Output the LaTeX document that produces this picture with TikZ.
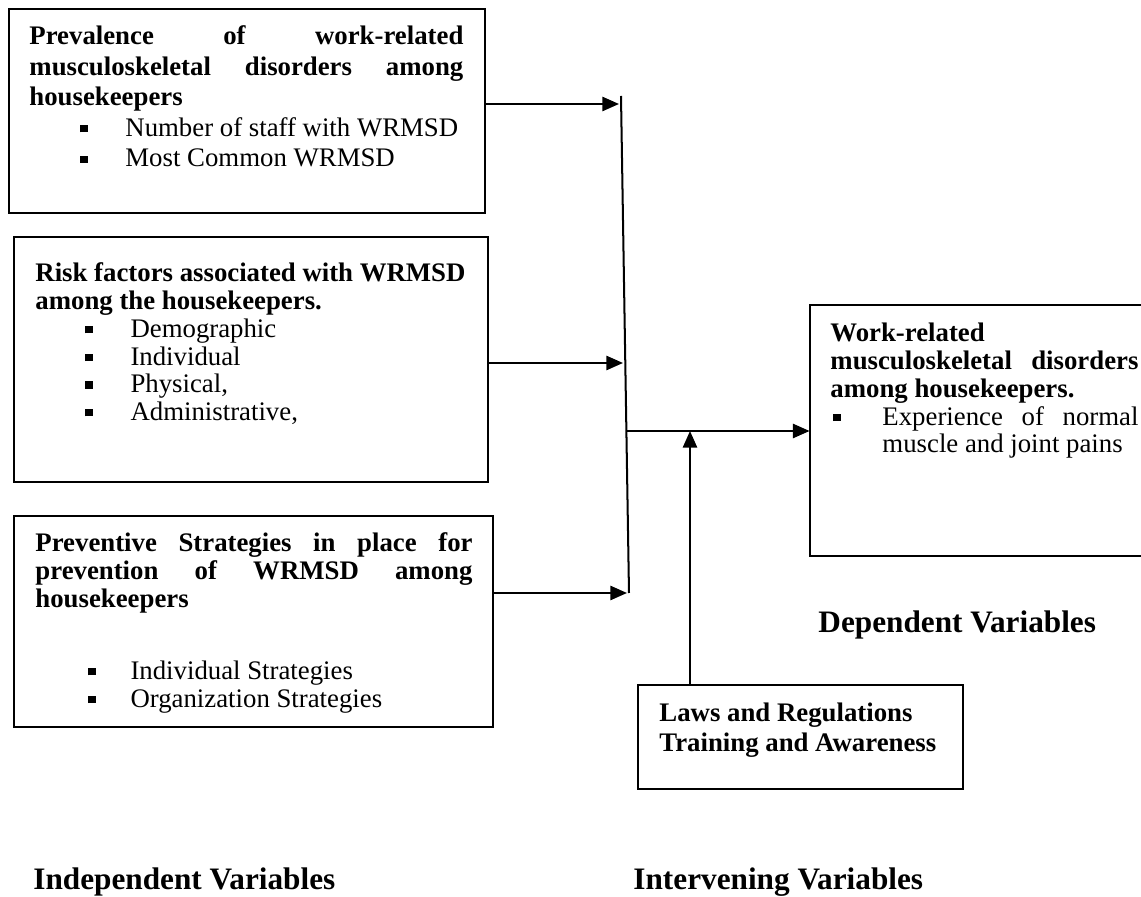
\documentclass[tikz,border=0pt]{standalone}
\usepackage{fontspec}
\setmainfont{Liberation Serif}
\usetikzlibrary{arrows.meta,fit}
\newcommand\bul[2]{\hbox to #2{\hskip #1\rule[1.8pt]{3.3pt}{3.3pt}\hss}}
\begin{document}
\begin{tikzpicture}[x=0.448pt,y=-0.448pt,
  box/.style={draw,line width=0.9pt,inner sep=0pt},
  txt/.style={inner sep=0pt,anchor=base west},
  arr/.style={line width=0.9pt,-{Triangle[length=7.5pt,width=6.4pt]}},
  bus/.style={line width=0.9pt},
  lab/.style={inner sep=0pt,anchor=base west,font=\bfseries\fontsize{14}{16}\selectfont}]
\useasboundingbox (0,0) rectangle (1141,897);

% boxes
\node[box,fit={(9,9) (485,213)}] (prev) {};
\node[box,fit={(14,237) (488,482)}] (risk) {};
\node[box,fit={(14,516) (493,727)}] (prevs) {};
\node[inner sep=0pt,fit={(810,305) (1141,556)}] (dep) {};
\draw[line width=0.9pt] (dep.north east) -- (dep.north west) -- (dep.south west) -- (dep.south east);
\node[box,fit={(638,685) (963,789)}] (law) {};

% texts
\node[txt] (prevT) at (29,45) {\parbox[t]{194.4pt}{\fontsize{12}{13.66}\selectfont\bfseries
\hbox to\linewidth{Prevalence\hfill of\hfill work-related}
\hbox to\linewidth{musculoskeletal\hfill disorders\hfill among}
\hbox{housekeepers}
\mdseries
\hbox{\bul{22.8pt}{43pt}Number of staff with WRMSD}
\hbox{\bul{22.8pt}{43pt}Most Common WRMSD}}};

\node[txt] (riskT) at (35,282) {\parbox[t]{200pt}{\fontsize{12}{12.4}\selectfont\bfseries
\hbox{Risk factors associated with WRMSD}
\hbox{among the housekeepers.}
\mdseries
\hbox{\bul{22.4pt}{42.6pt}Demographic}
\hbox{\bul{22.4pt}{42.6pt}Individual}
\hbox{\bul{22.4pt}{42.6pt}Physical,}
\hbox{\bul{22.4pt}{42.6pt}Administrative,}}};

\node[txt] (prevsT) at (35,552) {\parbox[t]{195.8pt}{\fontsize{12}{12.4}\selectfont\bfseries
\hbox to\linewidth{Preventive\hfill Strategies\hfill in\hfill place\hfill for}
\hbox to\linewidth{prevention\hfill of\hfill WRMSD\hfill among}
\hbox{housekeepers}
\vskip 19.9pt
\mdseries
\hbox{\bul{23.7pt}{42.6pt}Individual Strategies}
\hbox{\bul{23.7pt}{42.6pt}Organization Strategies}}};

\node[txt] (depT) at (830,342) {\parbox[t]{138pt}{\fontsize{12}{12.4}\selectfont\bfseries
\hbox{Work-related}
\hbox to\linewidth{musculoskeletal\hfill disorders}
\hbox{among housekeepers.}
\mdseries
\hbox to\linewidth{\bul{1.3pt}{23.3pt}Experience\hfill of\hfill normal}
\hbox{\hskip23.3pt muscle and joint pains}}};

\node[txt] (lawT) at (659,722) {\parbox[t]{140pt}{\fontsize{12}{13.4}\selectfont\bfseries
\hbox{Laws and Regulations}
\hbox{Training and Awareness}}};

% labels
\node[lab] (dv) at (818,633) {Dependent Variables};
\node[lab] (iv) at (33,890) {Independent Variables};
\node[lab] (intv) at (633,890) {Intervening Variables};

% connectors
\coordinate (vtop) at (621,96);
\coordinate (vbot) at (629,593);
\coordinate (j1) at (619,104);
\coordinate (j2) at (623,363);
\coordinate (j3) at (627,593);
\coordinate (jo) at (626,431);
\coordinate (ju) at (690,431);
\draw[bus] (vtop) -- (vbot);
\draw[arr] (prev.east |- j1) -- (j1);
\draw[arr] (risk.east |- j2) -- (j2);
\draw[arr] (prevs.east |- j3) -- (j3);
\draw[arr] (jo) -- (dep.west |- jo);
\draw[arr] (law.north -| ju) -- (ju);
\end{tikzpicture}
\end{document}
